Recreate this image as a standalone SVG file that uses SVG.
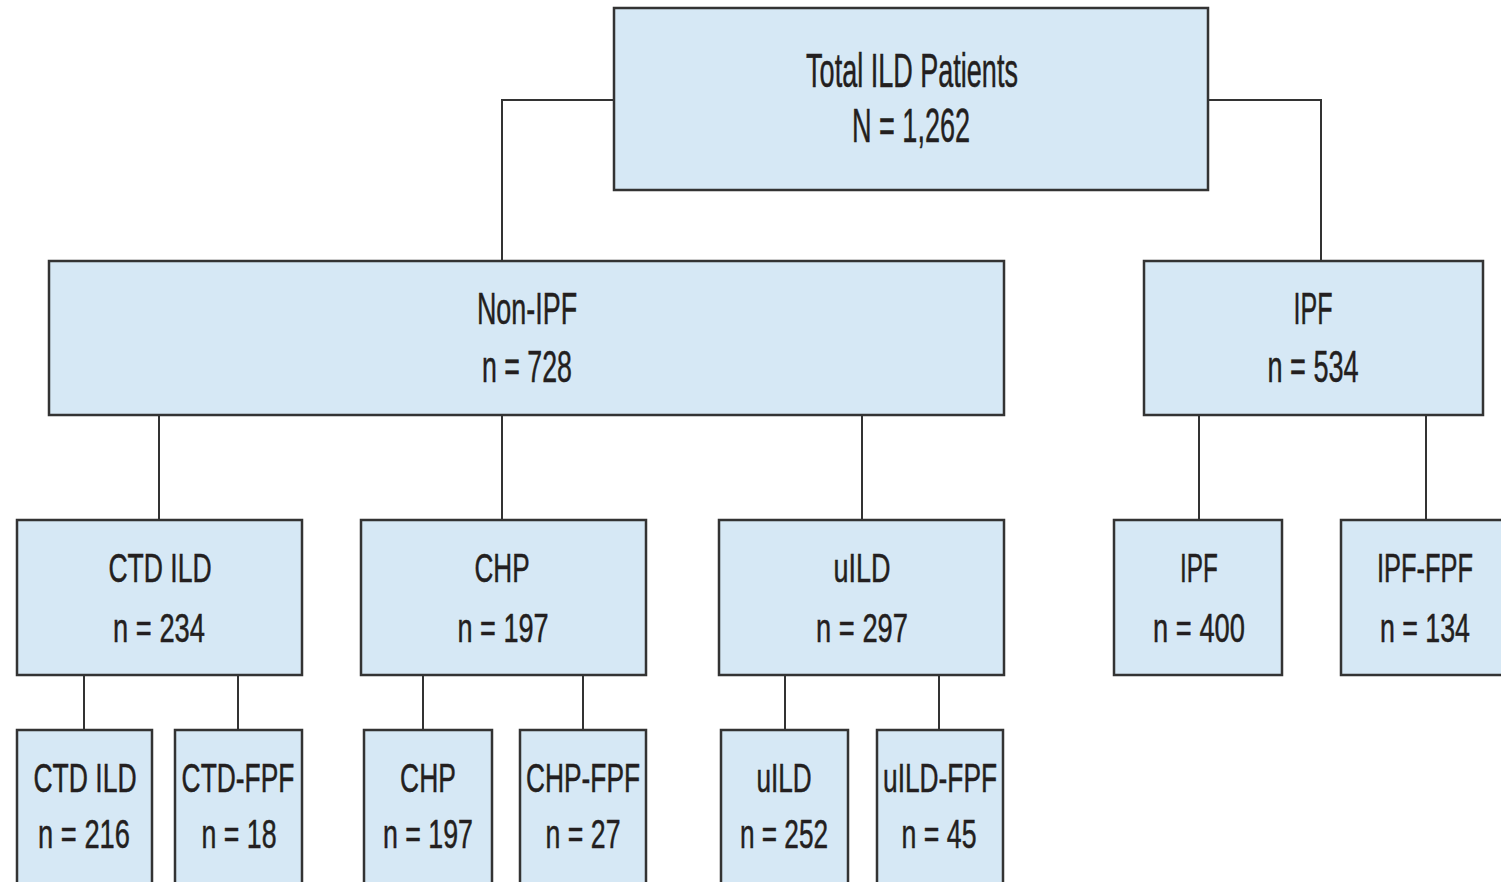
<svg xmlns="http://www.w3.org/2000/svg" width="1501" height="882" viewBox="0 0 1501 882">
<style>
.box{fill:#d6e8f5;stroke:#333;stroke-width:2.5}
.t{font-family:"Liberation Sans",Arial,sans-serif;fill:#231f20;stroke:#231f20;stroke-width:0.5;text-anchor:middle}
.f1{font-size:48px}
.f2{font-size:44px}
.f3{font-size:41px}
.conn{fill:none;stroke:#333;stroke-width:2}
</style>
<rect width="1501" height="882" fill="#fff"/>
<g id="connectors" class="conn">
<polyline points="614,100 502,100 502,261"/>
<polyline points="1208,100 1321,100 1321,261"/>
<line x1="159" y1="415" x2="159" y2="520"/>
<line x1="502" y1="415" x2="502" y2="520"/>
<line x1="862" y1="415" x2="862" y2="520"/>
<line x1="1199" y1="415" x2="1199" y2="520"/>
<line x1="1426" y1="415" x2="1426" y2="520"/>
<line x1="84" y1="675" x2="84" y2="730"/>
<line x1="238" y1="675" x2="238" y2="730"/>
<line x1="423" y1="675" x2="423" y2="730"/>
<line x1="583" y1="675" x2="583" y2="730"/>
<line x1="785" y1="675" x2="785" y2="730"/>
<line x1="939" y1="675" x2="939" y2="730"/>
</g>
<g id="total">
<rect class="box" x="614" y="8" width="594" height="182"/>
<text class="t f1" transform="translate(912 87) scale(0.6 1)" textLength="353" lengthAdjust="spacingAndGlyphs">Total ILD Patients</text>
<text class="t f1" transform="translate(911 142) scale(0.6 1)" textLength="197" lengthAdjust="spacingAndGlyphs">N = 1,262</text>
</g>
<g id="nonipf">
<rect class="box" x="49" y="261" width="955" height="154"/>
<text class="t f2" transform="translate(527 324) scale(0.6 1)" textLength="167" lengthAdjust="spacingAndGlyphs">Non-IPF</text>
<text class="t f2" transform="translate(527 382) scale(0.6 1)" textLength="150" lengthAdjust="spacingAndGlyphs">n = 728</text>
</g>
<g id="ipf">
<rect class="box" x="1144" y="261" width="339" height="154"/>
<text class="t f2" transform="translate(1313 324) scale(0.6 1)" textLength="65" lengthAdjust="spacingAndGlyphs">IPF</text>
<text class="t f2" transform="translate(1313 382) scale(0.6 1)" textLength="152" lengthAdjust="spacingAndGlyphs">n = 534</text>
</g>
<g id="ctdild">
<rect class="box" x="17" y="520" width="285" height="155"/>
<text class="t f3" transform="translate(160 582) scale(0.6 1)" textLength="172" lengthAdjust="spacingAndGlyphs">CTD ILD</text>
<text class="t f3" transform="translate(159 642) scale(0.6 1)" textLength="153" lengthAdjust="spacingAndGlyphs">n = 234</text>
</g>
<g id="chp">
<rect class="box" x="361" y="520" width="285" height="155"/>
<text class="t f3" transform="translate(502 582) scale(0.6 1)" textLength="92" lengthAdjust="spacingAndGlyphs">CHP</text>
<text class="t f3" transform="translate(503 642) scale(0.6 1)" textLength="152" lengthAdjust="spacingAndGlyphs">n = 197</text>
</g>
<g id="uild">
<rect class="box" x="719" y="520" width="285" height="155"/>
<text class="t f3" transform="translate(862 582) scale(0.6 1)" textLength="95" lengthAdjust="spacingAndGlyphs">uILD</text>
<text class="t f3" transform="translate(862 642) scale(0.6 1)" textLength="153" lengthAdjust="spacingAndGlyphs">n = 297</text>
</g>
<g id="ipf2">
<rect class="box" x="1114" y="520" width="168" height="155"/>
<text class="t f3" transform="translate(1199 582) scale(0.6 1)" textLength="63" lengthAdjust="spacingAndGlyphs">IPF</text>
<text class="t f3" transform="translate(1199 642) scale(0.6 1)" textLength="153" lengthAdjust="spacingAndGlyphs">n = 400</text>
</g>
<g id="ipffpf">
<rect class="box" x="1341" y="520" width="170" height="155"/>
<text class="t f3" transform="translate(1425 582) scale(0.6 1)" textLength="160" lengthAdjust="spacingAndGlyphs">IPF-FPF</text>
<text class="t f3" transform="translate(1425 642) scale(0.6 1)" textLength="150" lengthAdjust="spacingAndGlyphs">n = 134</text>
</g>
<g id="ctdild2">
<rect class="box" x="17" y="730" width="135" height="170"/>
<text class="t f3" transform="translate(85 792) scale(0.6 1)" textLength="172" lengthAdjust="spacingAndGlyphs">CTD ILD</text>
<text class="t f3" transform="translate(84 848) scale(0.6 1)" textLength="153" lengthAdjust="spacingAndGlyphs">n = 216</text>
</g>
<g id="ctdfpf">
<rect class="box" x="175" y="730" width="127" height="170"/>
<text class="t f3" transform="translate(238 792) scale(0.6 1)" textLength="188" lengthAdjust="spacingAndGlyphs">CTD-FPF</text>
<text class="t f3" transform="translate(239 848) scale(0.6 1)" textLength="125" lengthAdjust="spacingAndGlyphs">n = 18</text>
</g>
<g id="chp2">
<rect class="box" x="364" y="730" width="128" height="170"/>
<text class="t f3" transform="translate(428 792) scale(0.6 1)" textLength="93" lengthAdjust="spacingAndGlyphs">CHP</text>
<text class="t f3" transform="translate(428 848) scale(0.6 1)" textLength="150" lengthAdjust="spacingAndGlyphs">n = 197</text>
</g>
<g id="chpfpf">
<rect class="box" x="520" y="730" width="126" height="170"/>
<text class="t f3" transform="translate(583 792) scale(0.6 1)" textLength="190" lengthAdjust="spacingAndGlyphs">CHP-FPF</text>
<text class="t f3" transform="translate(583 848) scale(0.6 1)" textLength="125" lengthAdjust="spacingAndGlyphs">n = 27</text>
</g>
<g id="uild2">
<rect class="box" x="721" y="730" width="127" height="170"/>
<text class="t f3" transform="translate(784 792) scale(0.6 1)" textLength="92" lengthAdjust="spacingAndGlyphs">uILD</text>
<text class="t f3" transform="translate(784 848) scale(0.6 1)" textLength="147" lengthAdjust="spacingAndGlyphs">n = 252</text>
</g>
<g id="uildfpf">
<rect class="box" x="877" y="730" width="126" height="170"/>
<text class="t f3" transform="translate(940 792) scale(0.6 1)" textLength="190" lengthAdjust="spacingAndGlyphs">uILD-FPF</text>
<text class="t f3" transform="translate(939 848) scale(0.6 1)" textLength="125" lengthAdjust="spacingAndGlyphs">n = 45</text>
</g>
</svg>
